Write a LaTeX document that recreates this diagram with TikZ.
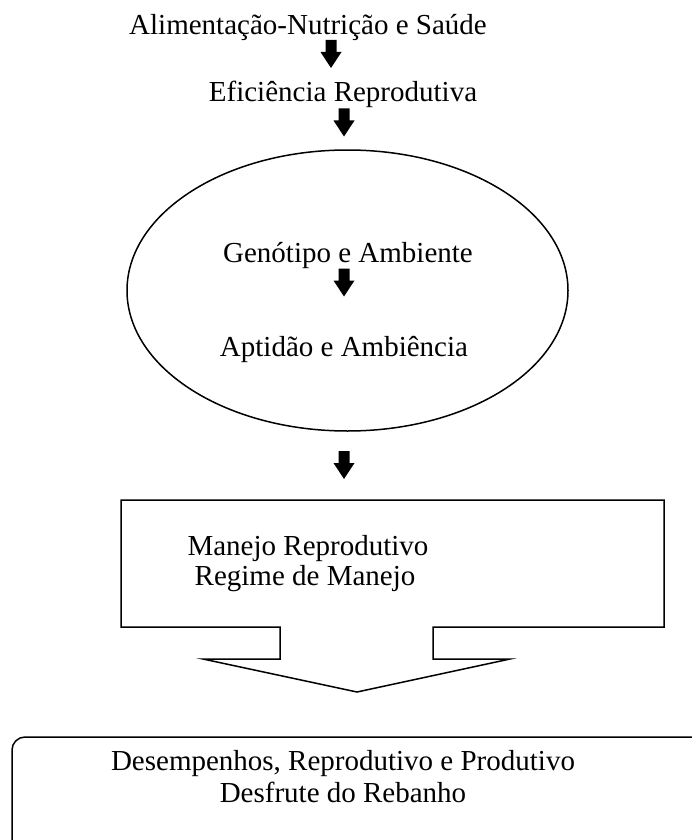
\documentclass[tikz,border=0pt]{standalone}
\usepackage{fontspec}
\setmainfont{Liberation Serif}
\usetikzlibrary{shapes.geometric}

\tikzset{
  txt/.style={anchor=base, inner sep=0pt, font=\fontsize{29}{31}\selectfont},
  pics/downarrow/.style={code={
    \fill (-5.5,-14) -- (5.5,-14) -- (5.5,-2) -- (10.5,-2) -- (0,14)
          -- (-10.5,-2) -- (-5.5,-2) -- cycle;}}
}

\begin{document}
\begin{tikzpicture}[%
    x=1pt, y=-1pt,
    line width=1.5pt
  ]
    \useasboundingbox (0,0) rectangle (691,840);

    % chain of factors
    \node[txt] (alim) at (308,35) {Alimentação-Nutrição e Saúde};
    \pic at (331,54) {downarrow};
    \node[txt] (efic) at (343,102) {Eficiência Reprodutiva};
    \pic at (344,122.5) {downarrow};

    % ellipse
    \node[ellipse, draw, minimum width=441pt, minimum height=281pt] (amb) at (347.5,290.5) {};
    \node[txt] (geno) at (348,262) {Genótipo e Ambiente};
    \pic at (344,282.5) {downarrow};
    \node[txt] (apti) at (344,356) {Aptidão e Ambiência};
    \pic at (344,465) {downarrow};

    % callout box
    \draw (280,627) -- (121,627) -- (121,500) -- (664,500) -- (664,627)
          -- (433,627) -- (433,659) -- (510,659) -- (357,692)
          -- (203,659) -- (280,659) -- cycle;
    \node[txt] (manejo) at (308,555) {Manejo Reprodutivo};
    \node[txt] (regime) at (305,585) {Regime de Manejo};

    % result
    \draw[rounded corners=13pt] (12,737) rectangle (720,880);
    \node[txt] (desemp) at (343,770) {Desempenhos, Reprodutivo e Produtivo};
    \node[txt] (desfr) at (343,802) {Desfrute do Rebanho};
  \end{tikzpicture}
\end{document}
